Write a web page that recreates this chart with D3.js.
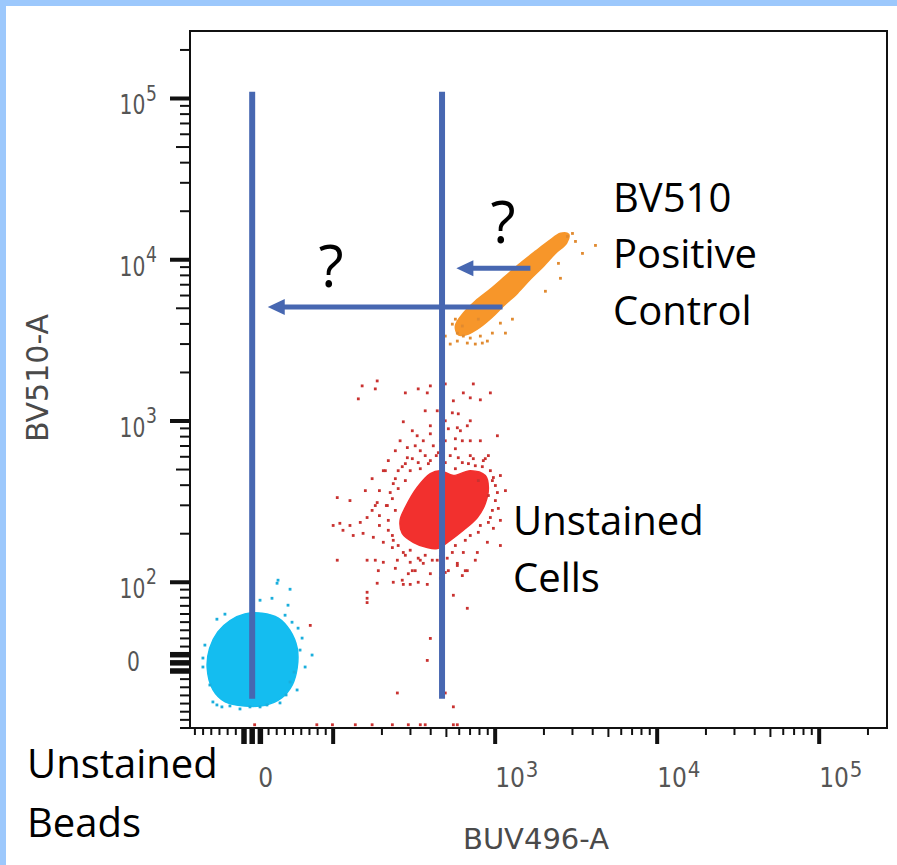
<!DOCTYPE html>
<html>
<head>
<meta charset="utf-8">
<script src="https://cdn.jsdelivr.net/npm/d3@7"></script>
<style>
  body { margin: 0; background: #fff; }
  svg { display: block; }
</style>
</head>
<body>
<svg id="chart" width="897" height="865"></svg>
<script>
// ---- data (BUV496-A, BV510-A fluorescence) ----
var beadsOutline = [[-55,-6],[-52,18],[-42,38],[-27,52],[-9,60],[12,61],[32,55],[46,40],[55,18],[55,-6],
  [49,-27],[36,-43],[16,-52],[-9,-53],[-33,-48],[-48,-33]];
var beadsEvents = [[31.6,103],[30.4,98.6],[46.3,90.5],[24.2,79.3],[9.6,76.9],[-43.1,53.6],[-60.2,5.9],
  [56.1,42.6],[61,30.4],[73.2,9.6],[64.7,-5.1],[54.9,-33.3],[34,-49.2],[-43.1,-51.7],[-37,-54.1],
  [-48,-48],[9.6,-54.1],[-2.7,-54.1],[18.1,-51.7],[46.3,-23.5],[-60.2,-5.1],[-57.8,21.8],[58.5,15.7],
  [51.2,-11.3],[41.4,-39.4],[-14.9,-56.6],[-27.2,-52.9],[-51.7,-27.2],[40.2,58.5],[48.7,49.9],
  [-33.3,59.8],[43.8,70.8]];

var cellsOutline = [[330,387],[398,472],[459,492],[552,459],[702,492],[869,459],[908,387],[869,308],
  [776,252],[636,210],[528,182],[439,162],[381,164],[312,177],[267,201],[259,242],[279,291]];
var cellsEvents = [[151,1651],[187,1772],[182,1582],[143,1372],[279,1494],[335,1582],[398,1651],[381,1494],
  [492,1698],[552,1334],[636,1494],[733,1698],[934,1494],[702,1392],[810,1353],[544,1124],[592,1108],
  [271,989],[330,810],[398,833],[492,1003],[514,895],[584,908],[673,934],[702,754],[810,754],[1032,810],
  [287,684],[287,592],[345,654],[398,568],[592,592],[733,584],[845,568],[1077,459],[975,446],[174,439],
  [235,409],[106,335],[187,312],[216,299],[193,259],[162,252],[147,235],[127,225],[110,232],[100,225],
  [115,210],[153,201],[133,195],[177,190],[204,177],[219,210],[232,164],[934,252],[975,216],[895,177],
  [776,153],[636,153],[584,131],[492,115],[398,113],[360,131],[299,133],[249,137],[204,133],[182,137],
  [162,137],[106,137],[190,118],[235,100],[267,103],[291,113],[335,100],[187,98.6],[162,86.7],[162,79.3],
  [552,83],[673,118],[271,97],[299,97],[381,97],[321,118],[514,118],[584,127],[654,118],[673,67],
  [398,30],[381,3],[492,-37],[552,-54],[71,46],[162,74],[249,-37],
  [3,-76],[79,-76],[99,-76],[137,-76],[174,-76],[232,-76],[291,-76],[345,-76],[370,-76],[552,-76],[584,-76],
  [252,492],[279,544],[308,584],[370,610],[446,636],[528,610],[627,552],[754,528],[934,492],[1003,398],
  [1003,321],[961,279],[810,225],[702,195],[568,169],[459,145],[370,147],[299,158],[252,169],[232,195],
  [242,279],[232,330],[252,381],[415,702],[492,754],[345,506],[568,673],[908,345],[279,147],[335,141],
  [409,137],[506,141],[398,934],[439,1157],[459,754],[433,610],[478,528],[210,492],[219,568],[242,654],
  [193,370],[182,299],[259,754],[308,870],[627,754],[702,1003],[908,610],[1077,242],
  [242,439],[267,521],[299,492],[335,552],[387,544],[492,552],[568,506],[684,544],[833,521],[961,427],
  [1032,360],[1046,287],[908,235],[787,204],[654,182],[544,153],[439,137],[345,137],[271,153],[235,182],
  [219,242],[213,299],[225,360],[279,427],[702,610],[869,584],[321,702],[568,776],[360,754],[193,225],
  [174,279],[242,122],[308,118],[459,106],[627,110],[754,137],[1077,169],[1157,370],[127,321],[158,370],
  [204,492],[610,870],[370,1157],[787,427]];

var controlOutline = [[568,3882],[637,4670],[755,5546],[935,6580],[1158,7920],[1434,9530],[1775,11300],
  [2138,13040],[2535,14610],[2840,14390],[2760,12670],[2360,10980],[1990,9130],[1653,7590],[1374,6210],
  [1125,5164],[962,4416],[811,3830],[684,3467],[593,3419]];
var controlEvents = [[544,3987],[584,3508],[636,3362],[702,3268],[810,3362],[895,3131],[961,3508],
  [833,3043],[584,3131],[528,3000],[673,3043],[754,3000],[1157,3508],[1077,4044],[787,4281],[568,4281],
  [2794,13949],[3000,14556],[2042,6377],[2529,7674],[3458,10950],[4160,12270],[627,3882],[492,3362],
  [1278,4281],[2458,9498],[3131,12990]];

// gate lines and arrows (annotations, in data units)
var gateLines = [{x: 0, y0: -44, y1: 110000}, {x: 470, y0: -44, y1: 110000}];
var arrows = [{x0: 1110, x1: 19, y: 5100}, {x0: 1650, x1: 576, y: 8850}];

// ticks
var xLabelValues = [0, 1000, 10000, 100000];
var yLabelValues = [0, 100, 1000, 10000, 100000];
var decades = [100, 1000, 10000, 100000];
var multipliers = [2, 3, 4, 5, 6, 7, 8, 9];
var linearTicks = [-80, -70, -60, -50, -40, -30, -20, 20, 30, 40, 50, 60, 70, 80];
var zeroBlock = [-10, 0, 10];

(function() {
  // ---- scales: log above T, linear below (biexponential-like display) ----
  var T = 86;
  function tf(v) {
    return v >= T ? Math.log10(v) : Math.log10(T) + (v - T) / (T * Math.LN10);
  }
  var pLeft = 190, pRight = 887, pTop = 31, pBottom = 728;
  var x = d3.scaleLinear().domain([tf(-76), tf(262144)]).range([pLeft, pRight]);
  var y = d3.scaleLinear().domain([tf(-80), tf(262144)]).range([pBottom, pTop]);
  function sx(v) { return x(tf(v)); }
  function sy(v) { return y(tf(v)); }

  var svg = d3.select("#chart");
  svg.append("rect").attr("width", 897).attr("height", 865).attr("fill", "#fff");
  svg.append("rect").attr("width", 897).attr("height", 6).attr("fill", "#9cc8fc");
  svg.append("rect").attr("width", 6).attr("height", 865).attr("fill", "#9cc8fc");

  svg.append("clipPath").attr("id", "plot")
    .append("rect").attr("x", pLeft).attr("y", pTop).attr("width", pRight - pLeft).attr("height", pBottom - pTop);

  var plot = svg.append("g").attr("clip-path", "url(#plot)");

  var blob = d3.line()
    .x(function(d) { return sx(d[0]); })
    .y(function(d) { return sy(d[1]); })
    .curve(d3.curveCatmullRomClosed.alpha(0.5));

  var pops = [
    {outline: beadsOutline, events: beadsEvents, fill: "#14bdf0", dot: "#1aaedc"},
    {outline: cellsOutline, events: cellsEvents, fill: "#f2302e", dot: "#c93230"},
    {outline: controlOutline, events: controlEvents, fill: "#f7962a", dot: "#e08a30"}
  ];

  pops.forEach(function(p) {
    plot.append("path")
      .attr("d", blob(p.outline))
      .attr("fill", p.fill)
      .attr("stroke", p.fill)
      .attr("stroke-width", 1.5);
    plot.selectAll(null)
      .data(p.events)
      .enter()
      .append("rect")
      .attr("x", function(d) { return sx(d[0]) - 1.4; })
      .attr("y", function(d) { return sy(d[1]) - 1.4; })
      .attr("width", 2.8)
      .attr("height", 2.8)
      .attr("fill", p.dot);
  });

  // frame
  svg.append("rect")
    .attr("x", pLeft).attr("y", pTop)
    .attr("width", pRight - pLeft).attr("height", pBottom - pTop)
    .attr("fill", "none").attr("stroke", "#111").attr("stroke-width", 2);

  // tick list: value + kind
  var ticks = [];
  linearTicks.forEach(function(v) { ticks.push({v: v, k: "minor"}); });
  zeroBlock.forEach(function(v) { ticks.push({v: v, k: "zero"}); });
  decades.forEach(function(d) {
    ticks.push({v: d, k: "major"});
    multipliers.forEach(function(m) {
      if (d * m <= 262144) ticks.push({v: d * m, k: m === 5 ? "mid" : "minor"});
    });
  });
  ticks.push({v: 90, k: "minor"});

  var xLen = {zero: 16, major: 16, mid: 9, minor: 7};
  var yLen = {zero: 20, major: 20, mid: 14, minor: 10};
  var tw = {zero: 5.5, major: 4, mid: 2, minor: 2};

  svg.selectAll("line.xt")
    .data(ticks.filter(function(d) { return sx(d.v) >= pLeft && sx(d.v) <= pRight; }))
    .enter().append("line")
    .attr("x1", function(d) { return sx(d.v); })
    .attr("x2", function(d) { return sx(d.v); })
    .attr("y1", pBottom)
    .attr("y2", function(d) { return pBottom + xLen[d.k]; })
    .attr("stroke", "#111")
    .attr("stroke-width", function(d) { return tw[d.k]; });

  svg.selectAll("line.yt")
    .data(ticks.filter(function(d) { return sy(d.v) >= pTop && sy(d.v) <= pBottom; }))
    .enter().append("line")
    .attr("y1", function(d) { return sy(d.v); })
    .attr("y2", function(d) { return sy(d.v); })
    .attr("x1", pLeft)
    .attr("x2", function(d) { return pLeft - yLen[d.k]; })
    .attr("stroke", "#111")
    .attr("stroke-width", function(d) { return tw[d.k]; });

  // tick labels
  var tickFont = "'DejaVu Sans', sans-serif";
  xLabelValues.forEach(function(v) {
    var g = svg.append("g")
      .attr("transform", "translate(" + (sx(v) + (v === 0 ? 6 : 0)) + ",787) scale(0.9,1)");
    var t = g.append("text").attr("font-family", tickFont).attr("font-size", 26).attr("fill", "#555");
    if (v === 0) { t.text("0"); return; }
    t.append("tspan").text("10");
    t.append("tspan").attr("dy", -10).attr("dx", 1).attr("font-size", 22).text(Math.round(Math.log10(v)));
  });
  yLabelValues.forEach(function(v) {
    var g = svg.append("g")
      .attr("transform", "translate(" + (v === 0 ? 140 : 157) + "," + (sy(v) + (v === 0 ? 8 : 16)) + ") scale(0.78,1)");
    var t = g.append("text").attr("font-family", tickFont).attr("font-size", 26).attr("fill", "#555")
      .attr("text-anchor", "end");
    if (v === 0) { t.text("0"); return; }
    t.append("tspan").text("10");
    t.append("tspan").attr("dy", -14).attr("dx", 1).attr("font-size", 22).text(Math.round(Math.log10(v)));
  });

  // axis titles
  svg.append("text")
    .attr("x", 463).attr("y", 849)
    .attr("font-family", tickFont).attr("font-size", 29).attr("fill", "#4a4a4a")
    .text("BUV496-A");
  svg.append("text")
    .attr("transform", "translate(48,378) rotate(-90)")
    .attr("text-anchor", "middle")
    .attr("font-family", tickFont).attr("font-size", 30).attr("fill", "#4a4a4a")
    .text("BV510-A");

  // gate lines + arrows
  var blue = "#4767b1";
  svg.selectAll("line.gate")
    .data(gateLines)
    .enter().append("line")
    .attr("x1", function(d) { return sx(d.x); })
    .attr("x2", function(d) { return sx(d.x); })
    .attr("y1", function(d) { return sy(d.y1); })
    .attr("y2", function(d) { return sy(d.y0); })
    .attr("stroke", blue).attr("stroke-width", 6);

  arrows.forEach(function(a) {
    var xt = sx(a.x1), xs = sx(a.x0), yy = sy(a.y);
    svg.append("line")
      .attr("x1", xs).attr("x2", xt + 12).attr("y1", yy).attr("y2", yy)
      .attr("stroke", blue).attr("stroke-width", 5);
    svg.append("path")
      .attr("d", "M" + xt + "," + yy + "L" + (xt + 17) + "," + (yy - 8) + "L" + (xt + 17) + "," + (yy + 8) + "Z")
      .attr("fill", blue);
  });

  // annotations
  var annFont = "'Open Sans', 'Noto Sans', sans-serif";
  var notes = [
    {t: "BV510", x: 613, y: 212}, {t: "Positive", x: 613, y: 268}, {t: "Control", x: 613, y: 325},
    {t: "Unstained", x: 513, y: 535}, {t: "Cells", x: 513, y: 592},
    {t: "Unstained", x: 27, y: 778}, {t: "Beads", x: 27, y: 837}
  ];
  svg.selectAll("text.note")
    .data(notes)
    .enter().append("text")
    .attr("x", function(d) { return d.x; })
    .attr("y", function(d) { return d.y; })
    .attr("font-family", annFont).attr("font-size", 40).attr("fill", "#000")
    .text(function(d) { return d.t; });

  [{x: 331, y: 287}, {x: 503, y: 243}].forEach(function(q) {
    svg.append("text")
      .attr("x", q.x).attr("y", q.y)
      .attr("text-anchor", "middle")
      .attr("font-family", annFont).attr("font-size", 58).attr("fill", "#000")
      .text("?");
  });
})();
</script>
</body>
</html>
